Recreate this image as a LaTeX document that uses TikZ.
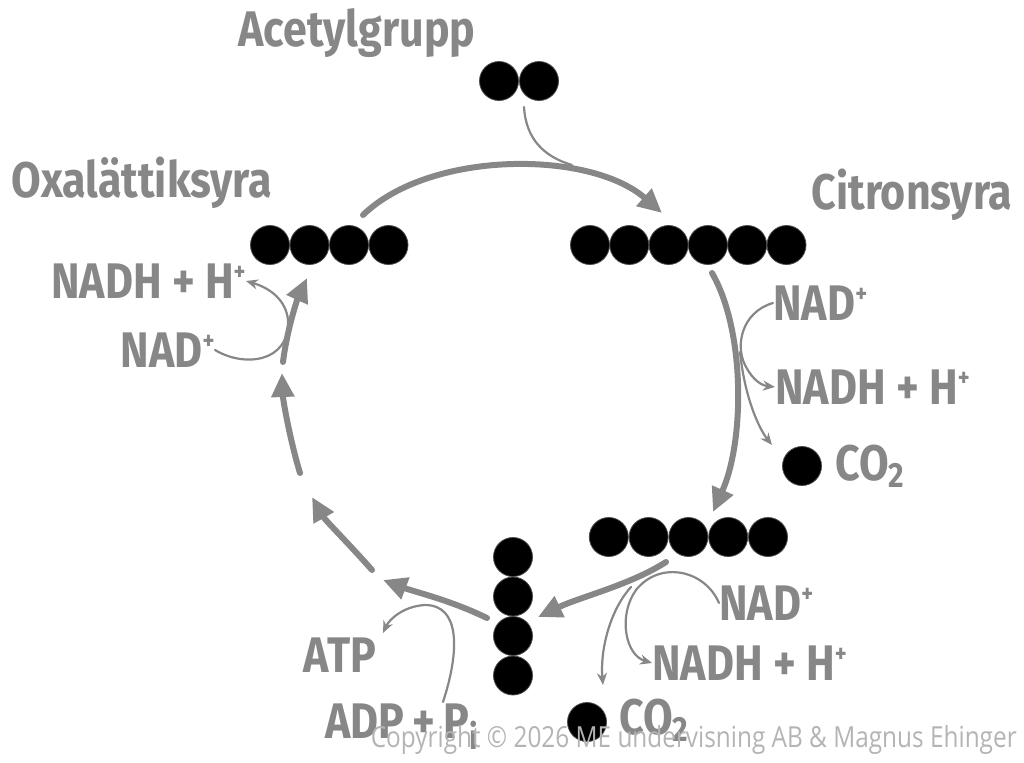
\documentclass[tikz,border=0pt]{standalone}
\usepackage{fontspec}
\usetikzlibrary{arrows.meta}
\newfontfamily\handfont[FakeStretch=0.86]{Fira Sans}
\newfontfamily\notefont[FakeStretch=0.84]{Open Sans}
\definecolor{cycgrey}{HTML}{878787}
\definecolor{notegrey}{HTML}{B4B4B4}
\newcommand{\ionplus}{\raisebox{0.35em}{\fontsize{13}{13}\selectfont+}}

\begin{document}
\begin{tikzpicture}[x=0.5pt,y=-0.5pt,
atom/.style={circle, draw=black!70, fill=black, minimum size=19.5pt, inner sep=0pt},
lbl/.style={text=cycgrey, font=\handfont\bfseries\fontsize{25}{25}\selectfont, inner sep=0pt},
cyc/.style={draw=cycgrey, line width=3pt, line cap=round, -{Triangle[length=12pt,width=11pt]}},
side/.style={draw=cycgrey, line width=1.1pt, line cap=round, -{Stealth[length=6pt,width=5pt]}},
]
\useasboundingbox (0,0) rectangle (1024,762);

% molecules
\foreach \i in {1,2} \node[atom] (a\i) at ({459+40*\i},81) {};
\foreach \i in {1,...,4} \node[atom] (o\i) at ({230.5+39.5*\i},245) {};
\foreach \i in {1,...,6} \node[atom] (c\i) at ({550.7+39.3*\i},245) {};
\foreach \i in {1,...,5} \node[atom] (k\i) at ({569+39.8*\i},537) {};
\foreach \i in {1,...,4} \node[atom] (s\i) at (513,{517.5+39.5*\i}) {};
\node[atom] (co2a) at (802,466) {};
\node[atom] (co2b) at (587,722) {};

% labels
\node[lbl] (acetyl) at (357,33) {Acetylgrupp};
\node[lbl] (oaa) at (142,183) {Oxalättiksyra};
\node[lbl] (citrate) at (912,195) {Citronsyra};
\node[lbl, anchor=west] (nad1) at (773,303) {NAD\ionplus};
\node[lbl, anchor=west] (nadh1) at (775,387) {NADH + H\ionplus};
\node[lbl, anchor=west] (co2t1) at (835,466) {CO\textsubscript{2}};
\node[lbl, anchor=west] (nad2) at (719,603) {NAD\ionplus};
\node[lbl, anchor=west] (nadh2) at (652,663) {NADH + H\ionplus};
\node[lbl, anchor=west] (co2t2) at (619,720) {CO\textsubscript{2}};
\node[lbl] (atp) at (340,655) {ATP};
\node[lbl] (adp) at (402,727) {ADP\,+\,P\textsubscript{i}};
\node[lbl, anchor=east] (nad3) at (215,350) {NAD\ionplus};
\node[lbl, anchor=east] (nadh3) at (246,281) {NADH + H\ionplus};
\node[text=notegrey, font=\notefont\fontsize{14.5}{14.5}\selectfont, anchor=east, inner sep=0pt] (copy) at (1017,740) {Copyright © 2026 ME undervisning AB \& Magnus Ehinger};

% free ends of the cycle
\coordinate (t0) at (363,215); \coordinate (t1) at (662,213);
\coordinate (r0) at (712,273); \coordinate (r1) at (713,512);
\coordinate (b0) at (666,562); \coordinate (b1) at (538,617);
\coordinate (l0) at (487,618); \coordinate (l1) at (383,580);
\coordinate (w0) at (372,570); \coordinate (w1) at (312,497);
\coordinate (v0) at (300,473); \coordinate (v1) at (282,373);
\coordinate (u0) at (283,362); \coordinate (u1) at (307,278);
\coordinate (ac0) at (524,107); \coordinate (ac1) at (572,165);
\coordinate (m1) at (740,352); \coordinate (m1t) at (772,445);
\coordinate (m2) at (631,587); \coordinate (m2t) at (603,685);
\coordinate (p0) at (443,702); \coordinate (p1) at (383,633);

% cycle
\draw[cyc] (t0) .. controls (430,150) and (590,150) .. (t1);
\draw[side,-] (ac0) .. controls (526,140) and (545,157) .. (ac1);
\draw[cyc] (r0) .. controls (745,330) and (745,440) .. (r1);
\draw[cyc] (b0) .. controls (630,585) and (580,597) .. (b1);
\draw[cyc] (l0) .. controls (450,600) and (415,592) .. (l1);
\draw[cyc] (w0) .. controls (350,545) and (325,520) .. (w1);
\draw[cyc] (v0) .. controls (290,440) and (283,400) .. (v1);
\draw[cyc] (u0) .. controls (287,330) and (297,300) .. (u1);

% side reactions
\draw[side] (nad1.west) .. controls (742,312) and (735,345) .. (745,365) .. controls (750,375) and (758,385) .. (nadh1.west);
\draw[side] (m1) .. controls (745,400) and (760,430) .. (m1t);
\draw[side] (nad2.west) .. controls (705,570) and (660,560) .. (636,590) .. controls (618,615) and (625,655) .. (nadh2.west);
\draw[side] (m2) .. controls (610,610) and (600,650) .. (m2t);
\draw[side] (p0) .. controls (460,650) and (460,605) .. (425,605) .. controls (405,606) and (390,618) .. (p1);
\draw[side] (nad3.east) .. controls (245,368) and (290,362) .. (288,320) .. controls (286,300) and (270,288) .. (nadh3.east);
\end{tikzpicture}
\end{document}
